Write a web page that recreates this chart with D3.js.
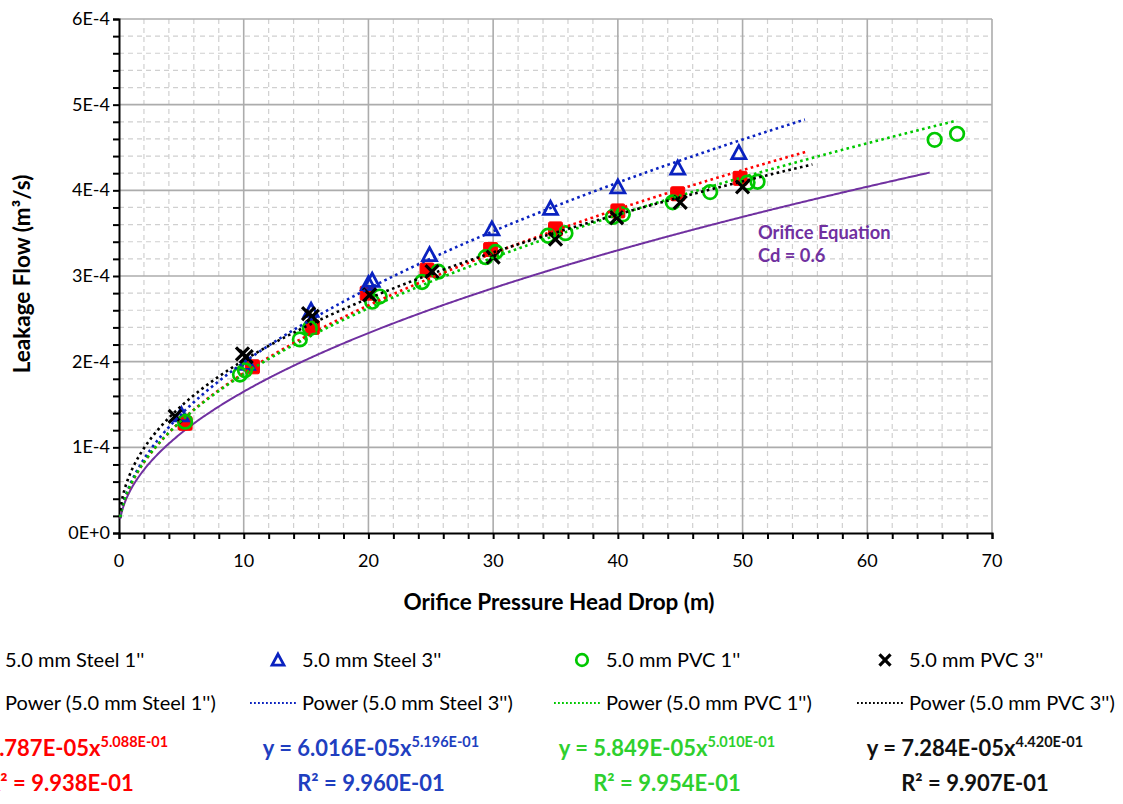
<!DOCTYPE html>
<html>
<head>
<meta charset="utf-8">
<script src="https://cdn.jsdelivr.net/npm/d3@7"></script>
<style>
  body { margin: 0; background: #fff; }
  svg { display: block; }
  text { font-family: Lato, "Open Sans", sans-serif; }
</style>
</head>
<body>
<svg id="chart" width="1123" height="804"></svg>
<script>
// ---- data ----
const seriesNames = ["5.0 mm Steel 1''", "5.0 mm Steel 3''", "5.0 mm PVC 1''", "5.0 mm PVC 3''"];
const seriesColors = ["#ff0000", "#0a22c0", "#00c800", "#000000"];
const labelColors = ["#ff0000", "#1f3fc0", "#2ed02e", "#111111"];

// measured head drop (m) and leakage flow (m³/s)
const steel1Head = [5.3, 10.7, 15.5, 19.9, 24.7, 29.8, 35.0, 40.0, 44.8, 49.8];
const steel1Flow = [1.28e-4, 1.94e-4, 2.40e-4, 2.80e-4, 3.07e-4, 3.31e-4, 3.55e-4, 3.76e-4, 3.96e-4, 4.14e-4];

const steel3Head = [5.0, 10.3, 15.4, 20.0, 20.3, 24.9, 29.9, 34.6, 40.0, 44.8, 49.7];
const steel3Flow = [1.38e-4, 1.98e-4, 2.60e-4, 2.91e-4, 2.95e-4, 3.25e-4, 3.55e-4, 3.79e-4, 4.04e-4, 4.26e-4, 4.44e-4];

const pvc1Head = [5.3, 9.7, 10.1, 14.5, 15.3, 20.3, 20.9, 24.3, 25.6, 29.4, 30.2, 34.4, 35.8, 39.6, 40.4, 44.4, 47.4, 50.4, 51.2, 65.4, 67.2];
const pvc1Flow = [1.30e-4, 1.85e-4, 1.90e-4, 2.26e-4, 2.39e-4, 2.70e-4, 2.76e-4, 2.93e-4, 3.05e-4, 3.22e-4, 3.28e-4, 3.47e-4, 3.50e-4, 3.69e-4, 3.72e-4, 3.86e-4, 3.98e-4, 4.09e-4, 4.10e-4, 4.59e-4, 4.66e-4];

const pvc3Head = [4.5, 9.9, 10.2, 15.2, 15.5, 20.1, 25.1, 30.0, 35.0, 39.9, 45.0, 50.0];
const pvc3Flow = [1.36e-4, 2.09e-4, 2.06e-4, 2.56e-4, 2.53e-4, 2.78e-4, 3.05e-4, 3.22e-4, 3.43e-4, 3.68e-4, 3.86e-4, 4.04e-4];

// power-law trendlines  y = a·x^b
const fitCoef = [5.787e-5, 6.016e-5, 5.849e-5, 7.284e-5];
const fitExp = [0.5088, 0.5196, 0.5010, 0.4420];
const fitCoefText = ["5.787E-05", "6.016E-05", "5.849E-05", "7.284E-05"];
const fitExpText = ["5.088E-01", "5.196E-01", "5.010E-01", "4.420E-01"];
const fitR2Text = ["9.938E-01", "9.960E-01", "9.954E-01", "9.907E-01"];
const fitStart = [0.1, 0.1, 0.1, 0.1];
const fitEnd = [55.2, 55.0, 67.2, 55.6];

// orifice equation  Q = Cd·A·√(2gH)
const orificeCd = 0.6;
const orificeDiameter = 0.005;
const gravity = 9.81;
const orificeHeadStart = 0.1;
const orificeHeadEnd = 65;

// axes
const xTicks = [0, 10, 20, 30, 40, 50, 60, 70];
const xMinorTicks = d3.range(0, 70.001, 2);
const yTicks = [0, 1e-4, 2e-4, 3e-4, 4e-4, 5e-4, 6e-4];
const yTickLabels = ["0E+0", "1E-4", "2E-4", "3E-4", "4E-4", "5E-4", "6E-4"];
const yMinorTicks = d3.range(0, 6.0001, 0.2).map(v => v * 1e-4);

// ---- layout ----
const svg = d3.select("#chart");
const plot = { left: 119, right: 992, top: 19, bottom: 533 };
const x = d3.scaleLinear().domain([0, 70]).range([plot.left, plot.right]);
const y = d3.scaleLinear().domain([0, 6e-4]).range([plot.bottom, plot.top]);

const series = [
  { head: steel1Head, flow: steel1Flow, shape: "square" },
  { head: steel3Head, flow: steel3Flow, shape: "triangle" },
  { head: pvc1Head, flow: pvc1Flow, shape: "circle" },
  { head: pvc3Head, flow: pvc3Flow, shape: "cross" }
];

// gridlines
const grid = svg.append("g");
grid.selectAll(".xminor").data(xMinorTicks.filter(v => v % 10 !== 0)).join("line")
  .attr("x1", d => x(d)).attr("x2", d => x(d)).attr("y1", plot.top).attr("y2", plot.bottom)
  .attr("stroke", "#d0d0d0").attr("stroke-width", 1.2).attr("stroke-dasharray", "5,4");
grid.selectAll(".yminor").data(yMinorTicks.filter((v, i) => i % 5 !== 0)).join("line")
  .attr("x1", plot.left).attr("x2", plot.right).attr("y1", d => y(d)).attr("y2", d => y(d))
  .attr("stroke", "#d0d0d0").attr("stroke-width", 1.2).attr("stroke-dasharray", "5,4");
grid.selectAll(".xmajor").data(xTicks.slice(1)).join("line")
  .attr("x1", d => x(d)).attr("x2", d => x(d)).attr("y1", plot.top).attr("y2", plot.bottom)
  .attr("stroke", "#acacac").attr("stroke-width", 1.6);
grid.selectAll(".ymajor").data(yTicks.slice(1)).join("line")
  .attr("x1", plot.left).attr("x2", plot.right).attr("y1", d => y(d)).attr("y2", d => y(d))
  .attr("stroke", "#acacac").attr("stroke-width", 1.6);

// axes
const xAxis = svg.append("g").attr("transform", `translate(0,${plot.bottom})`)
  .call(d3.axisBottom(x).tickValues(xMinorTicks).tickSize(6).tickFormat(""));
const yAxis = svg.append("g").attr("transform", `translate(${plot.left},0)`)
  .call(d3.axisLeft(y).tickValues(yMinorTicks).tickSize(6).tickFormat(""));
[xAxis, yAxis].forEach(a => {
  a.select(".domain").attr("stroke", "#000").attr("stroke-width", 2);
  a.selectAll(".tick line").attr("stroke", "#000").attr("stroke-width", 2);
});
svg.append("g").selectAll("text").data(xTicks).join("text")
  .attr("x", d => x(d)).attr("y", plot.bottom + 34)
  .attr("text-anchor", "middle").attr("font-size", 18).attr("fill", "#000")
  .text(d => d);
svg.append("g").selectAll("text").data(yTicks).join("text")
  .attr("x", plot.left - 9).attr("y", d => y(d) + 6)
  .attr("text-anchor", "end").attr("font-size", 18).attr("fill", "#000")
  .text((d, i) => yTickLabels[i]);

svg.append("text").attr("x", 559).attr("y", 610).attr("text-anchor", "middle")
  .attr("font-size", 22.5).attr("font-weight", "bold").text("Orifice Pressure Head Drop (m)");
svg.append("text").attr("transform", "translate(30,274) rotate(-90)").attr("text-anchor", "middle")
  .attr("font-size", 22.5).attr("font-weight", "bold").text("Leakage Flow (m³/s)");

// orifice equation curve
const orificeArea = Math.PI * orificeDiameter * orificeDiameter / 4;
const orificeHeads = d3.range(orificeHeadStart, orificeHeadEnd + 1e-9, 0.1);
const line = d3.line().x(d => x(d[0])).y(d => y(d[1]));
svg.append("path")
  .datum(orificeHeads.map(h => [h, orificeCd * orificeArea * Math.sqrt(2 * gravity * h)]))
  .attr("d", line).attr("fill", "none").attr("stroke", "#7030a0").attr("stroke-width", 2);
svg.append("text").attr("x", 758).attr("y", 239).attr("font-size", 18.3).attr("font-weight", "bold")
  .attr("fill", "#7030a0").text("Orifice Equation");
svg.append("text").attr("x", 758).attr("y", 262).attr("font-size", 18.3).attr("font-weight", "bold")
  .attr("fill", "#7030a0").text("Cd = 0.6");

// marker drawing
function drawMarker(g, shape, color, s) {
  if (shape === "square") {
    g.append("rect").attr("x", -7 * s).attr("y", -7 * s).attr("width", 14 * s).attr("height", 14 * s)
      .attr("rx", 1.5).attr("fill", color).attr("stroke", color).attr("stroke-width", 1);
  } else if (shape === "triangle") {
    g.append("path").attr("d", `M0,${-7 * s}L${7 * s},${6 * s}L${-7 * s},${6 * s}Z`)
      .attr("fill", "none").attr("stroke", color).attr("stroke-width", 2.8);
  } else if (shape === "circle") {
    g.append("circle").attr("r", 6.8 * s).attr("fill", "none").attr("stroke", color).attr("stroke-width", 2.7);
  } else {
    g.append("path").attr("d", `M${-6.5 * s},${-6.5 * s}L${6.5 * s},${6.5 * s}M${6.5 * s},${-6.5 * s}L${-6.5 * s},${6.5 * s}`)
      .attr("stroke", color).attr("stroke-width", 3.2);
  }
}

// data markers
series.forEach((s, i) => {
  const g = svg.append("g");
  s.head.forEach((h, j) => {
    const m = g.append("g").attr("transform", `translate(${x(h)},${y(s.flow[j])})`);
    drawMarker(m, s.shape, seriesColors[i], 1);
  });
});

// trendlines
series.forEach((s, i) => {
  const pts = d3.range(fitStart[i], fitEnd[i] + 1e-9, 0.05).map(h => [h, fitCoef[i] * Math.pow(h, fitExp[i])]);
  pts.push([fitEnd[i], fitCoef[i] * Math.pow(fitEnd[i], fitExp[i])]);
  svg.append("path").datum(pts).attr("d", line).attr("fill", "none")
    .attr("stroke", seriesColors[i]).attr("stroke-width", 2.6).attr("stroke-dasharray", "2.6,3.4");
});

// legend
const colText = [5, 302, 606, 909];
const eqCenter = [60, 371, 667, 975];
const legend = svg.append("g");
seriesNames.forEach((name, i) => {
  const m = legend.append("g").attr("transform", `translate(${colText[i] - 24},660)`);
  drawMarker(m, series[i].shape, seriesColors[i], 0.85);
  legend.append("text").attr("x", colText[i]).attr("y", 667).attr("font-size", 20).text(name);

  legend.append("line").attr("x1", colText[i] - 52).attr("x2", colText[i] - 4).attr("y1", 703).attr("y2", 703)
    .attr("stroke", seriesColors[i]).attr("stroke-width", 1.8).attr("stroke-dasharray", "1.8,2.2");
  legend.append("text").attr("x", colText[i]).attr("y", 710).attr("font-size", 20).text(`Power (${name})`);

  const eq = legend.append("text").attr("x", eqCenter[i]).attr("y", 756).attr("text-anchor", "middle")
    .attr("font-size", 22).attr("font-weight", "bold").attr("fill", labelColors[i]);
  eq.append("tspan").text(`y = ${fitCoefText[i]}x`);
  eq.append("tspan").attr("dy", -9).attr("font-size", 14.5).text(fitExpText[i]);
  legend.append("text").attr("x", eqCenter[i]).attr("y", 791).attr("text-anchor", "middle")
    .attr("font-size", 22).attr("font-weight", "bold").attr("fill", labelColors[i])
    .text(`R² = ${fitR2Text[i]}`);
});
</script>
</body>
</html>
